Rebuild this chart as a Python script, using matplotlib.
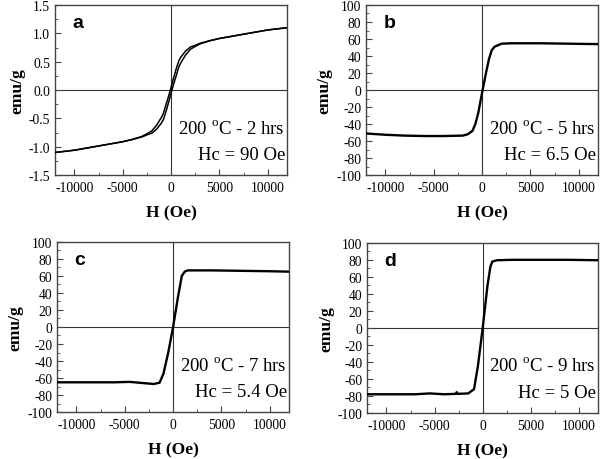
import matplotlib
matplotlib.use("Agg")
import matplotlib.pyplot as plt
from matplotlib.ticker import MultipleLocator, FormatStrFormatter

plt.rcParams['font.family'] = ['Liberation Serif', 'DejaVu Serif']
plt.rcParams['mathtext.fontset'] = 'custom'
plt.rcParams['mathtext.rm'] = 'Liberation Serif'
plt.rcParams['axes.unicode_minus'] = False

# ---- data ----
H_a = [-12000, -10000, -8000, -6000, -5000, -4000, -3000, -2500, -2000, -1500, -1000, -800,
       -500, -250, 0, 250, 500, 800, 1000, 1500, 2000, 2500, 3000, 4000, 5000, 6000,
       8000, 10000, 12000]
M_a_desc = [-1.10, -1.06, -1.00, -0.94, -0.91, -0.87, -0.815, -0.77, -0.72, -0.62, -0.48, -0.41,
            -0.24, -0.10, 0.05, 0.21, 0.36, 0.52, 0.58, 0.69, 0.76, 0.79, 0.825, 0.87, 0.91, 0.94,
            1.00, 1.06, 1.10]
M_a_asc = [-1.10, -1.06, -1.00, -0.94, -0.91, -0.87, -0.825, -0.79, -0.76, -0.69, -0.58, -0.52,
           -0.36, -0.21, -0.05, 0.10, 0.24, 0.41, 0.48, 0.62, 0.72, 0.77, 0.815, 0.87, 0.91, 0.94,
           1.00, 1.06, 1.10]

H_b = [-12000, -10000, -8000, -6000, -4000, -2000, -1500, -1000, -700, -400, 0,
       400, 700, 1000, 1300, 1600, 2000, 3000, 6000, 9000, 12000]
M_b = [-51.0, -52.5, -53.5, -54.0, -54.0, -53.5, -52.0, -48.0, -40.0, -27.0, -3.0,
       20.0, 36.0, 47.0, 51.0, 52.5, 54.5, 55.0, 55.0, 54.5, 54.0]

H_c = [-12000, -9000, -6000, -4500, -3000, -2000, -1400, -1000, -500, 0,
       500, 900, 1200, 1500, 2000, 4000, 7000, 10000, 12000]
M_c = [-65.0, -65.0, -65.0, -64.5, -66.0, -67.0, -65.5, -55.0, -30.0, 0.0,
       35.0, 60.0, 65.0, 66.5, 66.5, 66.5, 66.0, 65.5, 65.0]

H_d = [-12000, -9000, -7000, -5500, -4000, -2800, -2700, -2600, -1500, -900, -500, 0,
       500, 800, 1000, 1500, 3000, 6000, 9000, 12000]
M_d = [-78.0, -78.0, -78.0, -77.0, -78.0, -77.5, -75.5, -77.5, -77.0, -72.0, -45.0, 0.0,
       50.0, 72.0, 78.0, 79.5, 80.0, 80.0, 80.0, 79.5]

labels = ['a', 'b', 'c', 'd']
line1 = [r'200 $^{\mathrm{o}}$C - 2 hrs', r'200 $^{\mathrm{o}}$C - 5 hrs',
         r'200 $^{\mathrm{o}}$C - 7 hrs', r'200 $^{\mathrm{o}}$C - 9 hrs']
line2 = ['Hc = 90 Oe', 'Hc = 6.5 Oe', 'Hc = 5.4 Oe', 'Hc = 5 Oe']

fig = plt.figure(figsize=(6, 4.6), dpi=100)
rects = [[0.0917, 0.617, 0.387, 0.37],
         [0.610, 0.617, 0.387, 0.37],
         [0.095, 0.102, 0.387, 0.37],
         [0.612, 0.100, 0.385, 0.37]]

series = [[(H_a, M_a_desc), (H_a, M_a_asc)],
          [(H_b, M_b)],
          [(H_c, M_c)],
          [(H_d, M_d)]]
widths = [1.1, 1.7, 1.7, 1.7]

for i in range(4):
    ax = fig.add_axes(rects[i])
    ax.axhline(0, color='#333333', lw=0.8, zorder=1)
    ax.axvline(0, color='#333333', lw=0.8, zorder=1)
    for h, m in series[i]:
        ax.plot(h, m, color='black', lw=widths[i], zorder=3)
    ax.set_xlim(-12000, 12000)
    ax.xaxis.set_major_locator(MultipleLocator(5000))
    ax.xaxis.set_minor_locator(MultipleLocator(2500))
    if i == 0:
        ax.set_ylim(-1.5, 1.5)
        ax.yaxis.set_major_locator(MultipleLocator(0.5))
        ax.yaxis.set_minor_locator(MultipleLocator(0.25))
        ax.yaxis.set_major_formatter(FormatStrFormatter('%.1f'))
    else:
        ax.set_ylim(-100, 100)
        ax.yaxis.set_major_locator(MultipleLocator(20))
        ax.yaxis.set_minor_locator(MultipleLocator(10))
    ax.tick_params(which='both', direction='in', labelsize=9.8, top=False, right=False,
                   color='#444444')
    ax.tick_params(axis='x', which='both', pad=4.5)
    ax.tick_params(axis='y', which='both', pad=3.5)
    ax.tick_params(which='major', length=4)
    ax.tick_params(which='minor', length=2)
    for s in ax.spines.values():
        s.set_color('#444444')
        s.set_linewidth(1.0)
    ax.set_xlabel('H (Oe)', fontsize=12.5, fontweight='bold', labelpad=7)
    ax.set_ylabel('emu/g', fontsize=12.5, fontweight='bold', labelpad=2.5)
    ax.text(0.075, 0.87, labels[i], transform=ax.transAxes, fontsize=14,
            fontweight='bold', family=['Liberation Sans', 'DejaVu Sans'])
    ax.text(0.99, 0.25, line1[i], transform=ax.transAxes, fontsize=13.5, ha='right')
    ax.text(0.99, 0.095, line2[i], transform=ax.transAxes, fontsize=13.5, ha='right')

fig.savefig('out.png', dpi=100)
